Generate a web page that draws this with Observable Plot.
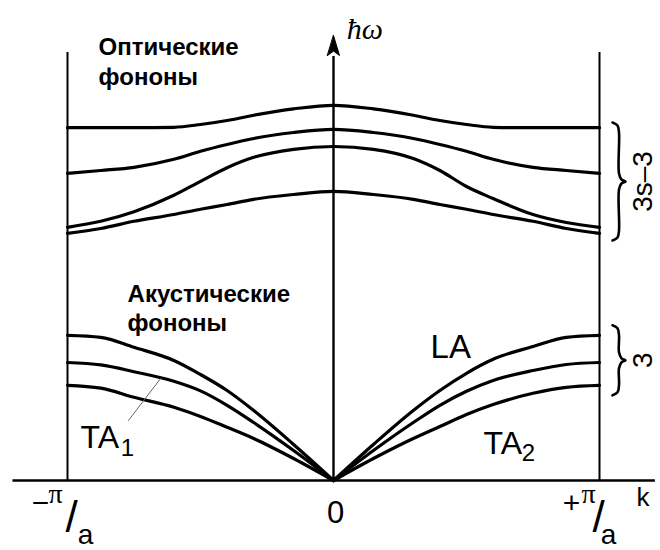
<!DOCTYPE html>
<html>
<head>
<meta charset="utf-8">
<script src="https://cdn.jsdelivr.net/npm/d3@7"></script>
<script src="https://cdn.jsdelivr.net/npm/@observablehq/plot@0.6"></script>
<style>
  body { margin: 0; background: #fff; }
  #chart svg { display: block; }
</style>
</head>
<body>
<div id="chart"></div>
<script>
// Wave number k across the first Brillouin zone, in units of π/a
const k = [-1, -0.875, -0.75, -0.6, -0.5, -0.4, -0.3, -0.15, 0, 0.15, 0.3, 0.4, 0.5, 0.6, 0.75, 0.875, 1];

// Optical branches, ħω in arbitrary units
const optical1 = [88.2, 88.2, 88.2, 88.3, 89.0, 90.0, 91.3, 92.9, 93.8, 92.9, 91.3, 90.0, 89.0, 88.3, 88.2, 88.2, 88.2];
const optical2 = [76.8, 77.5, 78.3, 80.3, 82.3, 84.0, 85.5, 87.0, 87.8, 87.0, 85.5, 84.0, 82.3, 80.3, 78.3, 77.5, 76.8];
const optical3 = [63.3, 64.8, 67.2, 71.3, 74.8, 78.2, 80.8, 82.8, 83.5, 82.8, 80.5, 77.5, 73.5, 70.5, 66.5, 64.5, 63.3];
const optical4 = [61.8, 63.0, 64.8, 66.5, 67.8, 69.0, 70.3, 71.5, 72.3, 71.5, 70.3, 69.0, 67.8, 66.5, 64.8, 63.0, 61.8];

// Acoustic branches (longitudinal LA, transverse TA1 and TA2)
const acousticLA  = [36.3, 35.8, 33.3, 30.0, 26.5, 22.5, 17.5, 9.0, 0, 9.0, 17.5, 22.5, 26.8, 30.3, 33.5, 35.8, 36.3];
const acousticTA1 = [29.5, 28.9, 27.2, 24.8, 22.4, 18.8, 14.5, 7.5, 0, 7.5, 14.5, 18.8, 22.3, 25.0, 27.5, 29.0, 29.5];
const acousticTA2 = [23.8, 23.1, 20.8, 18.3, 16.0, 13.3, 10.5, 5.5, 0, 5.5, 10.5, 13.5, 16.5, 19.0, 21.8, 23.3, 23.8];

// Axis ticks and text
const tickValues = [-1, 0, 1];
const tickLabels = ["−π/a", "0", "+π/a"];
const opticalTitle = "Оптические\nфононы";
const acousticTitle = "Акустические\nфононы";
const opticalCount = "3s–3";
const acousticCount = "3";

// Long-format rows for the marks
const opticalRows = [optical1, optical2, optical3, optical4].flatMap((v, i) =>
  k.map((kk, j) => ({branch: "O" + (i + 1), k: kk, w: v[j]})));

// acoustic branches are drawn as two halves so the cusp at k = 0 stays sharp
const acousticRows = [["LA", acousticLA], ["TA1", acousticTA1], ["TA2", acousticTA2]].flatMap(([name, v]) =>
  ["L", "R"].flatMap(side =>
    k.map((kk, j) => ({branch: name + side, k: kk, w: v[j]}))
     .filter(d => side === "L" ? d.k <= 0 : d.k >= 0)));

const pxPerK = (599 - 67) / 2;   // x range / x domain
const pxPerW = (480 - 80) / 100; // y range / y domain

// Curly brace "}" spanning [lo, hi] of ħω, drawn just right of the zone edge
function brace(id, lo, hi) {
  const m = (lo + hi) / 2;
  const pts = [
    [612, hi, 0], [617, hi, -3], [618.5, hi, -10], [618.5, m, 8], [621, m, 2],
    [625, m, 0], [621, m, -2], [618.5, m, -8], [618.5, lo, 10], [617, lo, 3], [612, lo, 0]
  ];
  return pts.map(([px, w, dpx]) => ({id, k: (px - 333) / pxPerK, w: w + dpx / pxPerW}));
}
const opticalSpan = [d3.min(optical4) - 1.8, d3.max([optical1[0], optical1[16]]) + 1.3];
const acousticSpan = [d3.min([acousticTA2[0], acousticTA2[16]]) - 2.5, d3.max([acousticLA[0], acousticLA[16]]) + 2.5];
const braceRows = [...brace("opt", ...opticalSpan), ...brace("ac", ...acousticSpan)];

const fracRe = /^([−+])(π)\/(a)$/;
const tickRows = tickValues.map((t, i) => ({k: t, text: tickLabels[i]}));
const tickDx = 2, tickDy = 42;

const sans = "Liberation Sans, Arial, Helvetica, sans-serif";
const serif = "Liberation Serif, Times New Roman, serif";

// Filled arrowhead with a notched back
const arrowHead = {
  draw(context, l, r) {
    context.moveTo(0, -l);
    context.lineTo(r, 0);
    context.lineTo(0, -l * 0.22);
    context.lineTo(-r, 0);
    context.closePath();
  }
};

const chart = Plot.plot({
  width: 660,
  height: 550,
  margin: 0,
  x: {domain: [-1, 1], range: [67, 599], axis: null},
  y: {domain: [0, 100], range: [480, 80], axis: null},
  style: {background: "white", fontFamily: sans},
  marks: [
    // zone boundaries at ±π/a
    Plot.ruleX([-1, 1], {y1: 0, y2: 107, stroke: "black", strokeWidth: 2}),
    // k axis
    Plot.ruleY([0], {x1: -1.205, x2: 1.21, stroke: "black", strokeWidth: 2.6}),
    // ħω axis with arrow
    Plot.ruleX([0], {y1: 0, y2: 106, stroke: "black", strokeWidth: 2.4}),
    Plot.vector([{k: 0, w: 111.25}], {x: "k", y: "w", length: 20, r: 6, anchor: "end", shape: arrowHead, fill: "black", stroke: "black", strokeWidth: 1}),
    Plot.text(["ħω"], {x: 0.05, y: 110.5, text: d => d, textAnchor: "start", lineAnchor: "bottom", fontSize: 30, fontStyle: "italic", fontFamily: serif}),

    // dispersion branches
    Plot.line(opticalRows, {x: "k", y: "w", z: "branch", curve: "monotone-x", stroke: "black", strokeWidth: 3.2}),
    Plot.line(acousticRows, {x: "k", y: "w", z: "branch", curve: "monotone-x", stroke: "black", strokeWidth: 3.2}),

    // braces with branch counts
    Plot.line(braceRows, {x: "k", y: "w", z: "id", curve: "catmull-rom", stroke: "black", strokeWidth: 2.6}),
    Plot.text([opticalCount], {x: 1.165, y: d3.mean(opticalSpan), text: d => d, rotate: -90, fontSize: 28}),
    Plot.text([acousticCount], {x: 1.165, y: d3.mean(acousticSpan), text: d => d, rotate: -90, fontSize: 28}),

    // group titles
    Plot.text([opticalTitle], {x: -0.883, y: 111.75, text: d => d, textAnchor: "start", lineAnchor: "top", lineHeight: 1.25, fontSize: 24, fontWeight: "bold"}),
    Plot.text([acousticTitle], {x: -0.774, y: 49.75, text: d => d, textAnchor: "start", lineAnchor: "top", lineHeight: 1.2, fontSize: 24, fontWeight: "bold"}),

    // branch names
    Plot.text(["LA"], {x: 0.365, y: 30.75, text: d => d, textAnchor: "start", lineAnchor: "bottom", fontSize: 33}),
    Plot.text(["TA"], {x: 0.564, y: 6.75, text: d => d, textAnchor: "start", lineAnchor: "bottom", fontSize: 32}),
    Plot.text(["2"], {x: 0.708, y: 5, text: d => d, textAnchor: "start", lineAnchor: "bottom", fontSize: 24}),
    Plot.text(["TA"], {x: -0.951, y: 8.25, text: d => d, textAnchor: "start", lineAnchor: "bottom", fontSize: 32}),
    Plot.text(["1"], {x: -0.8, y: 6.25, text: d => d, textAnchor: "start", lineAnchor: "bottom", fontSize: 24}),
    Plot.line([{k: -0.771, w: 15}, {k: -0.65, w: 25.5}], {x: "k", y: "w", stroke: "#666", strokeWidth: 1}),

    // k tick labels (fractions are typeset below)
    Plot.text(tickRows, {x: "k", y: 0, text: "text", dx: tickDx, dy: tickDy, lineAnchor: "bottom", fontSize: 31}),
    Plot.text(["k"], {x: 1.139, y: 0, text: d => d, dy: 25, textAnchor: "start", lineAnchor: "bottom", fontSize: 26})
  ]
});

// Typeset ±π/a as a slanted fraction: raised π, long slash, lowered a.
// Offsets are from the tick position on the k axis.
d3.select(chart).selectAll("text")
  .filter(function () { return fracRe.test(this.textContent); })
  .each(function () {
    const [, sign, num, den] = this.textContent.match(fracRe);
    const left = sign === "−";
    const t = d3.select(this).text(null).attr("text-anchor", "middle");
    [
      {s: sign, x: left ? -27 : -28, y: 32, size: 30},
      {s: num, x: left ? -12 : -11, y: 22, size: 28, family: serif},
      {s: "/", x: left ? 4 : -1, y: 51, size: 44},
      {s: den, x: left ? 18 : 9, y: 63, size: 28}
    ].forEach(p => {
      const ts = t.append("tspan")
        .attr("x", p.x - tickDx)
        .attr("y", p.y - tickDy)
        .attr("font-size", p.size)
        .text(p.s);
      if (p.family) ts.attr("font-family", p.family);
    });
  });

document.getElementById("chart").appendChild(chart);
</script>
</body>
</html>
